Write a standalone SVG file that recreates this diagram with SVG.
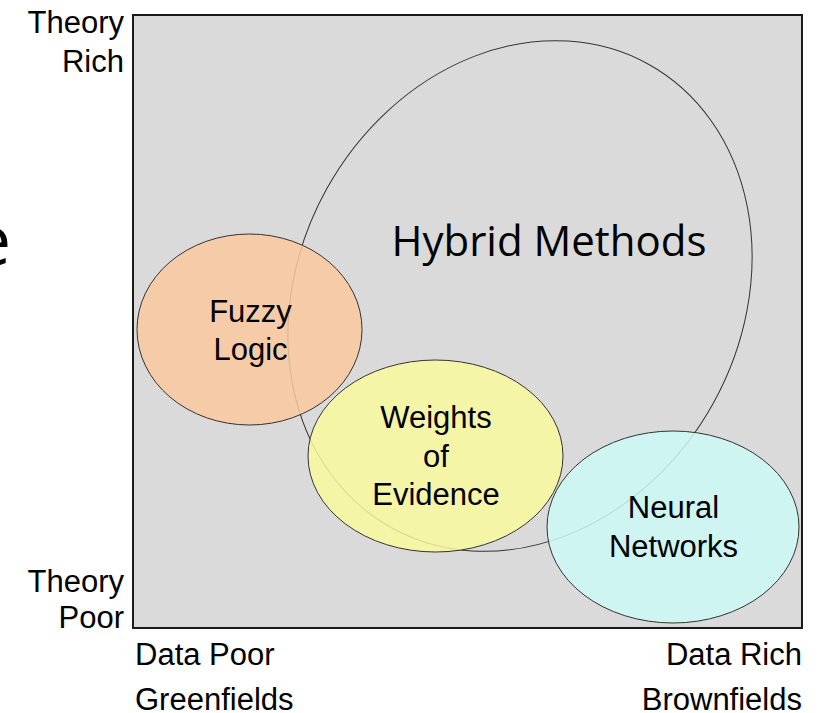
<svg xmlns="http://www.w3.org/2000/svg" width="818" height="713" viewBox="0 0 818 713">
  <style>
    .axis { font-family: "Liberation Sans", Arimo, Arial, sans-serif; font-size: 31px; fill: #000; }
    .lbl { font-family: "Liberation Sans", Arimo, Arial, sans-serif; font-size: 31px; fill: #000; text-anchor: middle; }
    .big { font-family: "Open Sans", "Noto Sans", sans-serif; font-size: 42px; fill: #000; }
    .blob { stroke: #333; stroke-width: 1; fill-opacity: 0.85; }
  </style>
  <rect width="818" height="713" fill="#ffffff"/>

  <!-- partial heading glyph at the left margin -->
  <text class="big" x="11" y="265" style="font-size:70px" text-anchor="end">e</text>

  <!-- plot field -->
  <rect id="field" x="133" y="15" width="669" height="613" fill="#dadada" stroke="#1a1a1a" stroke-width="2"/>

  <!-- axis labels -->
  <g id="axis-labels">
    <text class="axis" x="124" y="33" text-anchor="end">Theory</text>
    <text class="axis" x="124" y="72" text-anchor="end">Rich</text>
    <text class="axis" x="124" y="592" text-anchor="end">Theory</text>
    <text class="axis" x="124" y="628" text-anchor="end">Poor</text>
    <text class="axis" x="135" y="665">Data Poor</text>
    <text class="axis" x="135" y="710">Greenfields</text>
    <text class="axis" x="802" y="665" text-anchor="end">Data Rich</text>
    <text class="axis" x="802" y="710" text-anchor="end">Brownfields</text>
  </g>

  <!-- hybrid methods region -->
  <g id="hybrid">
    <ellipse cx="520" cy="296" rx="221" ry="265" transform="rotate(29 520 296)" fill="none" stroke="#333" stroke-width="1"/>
    <text class="big" x="549" y="256" text-anchor="middle">Hybrid Methods</text>
  </g>

  <g id="fuzzy">
    <ellipse class="blob" cx="249.5" cy="329.5" rx="112.5" ry="95.5" fill="#fac99f"/>
    <text class="lbl" x="250.5" y="322">Fuzzy</text>
    <text class="lbl" x="250.5" y="360">Logic</text>
  </g>

  <g id="weights">
    <ellipse class="blob" cx="435.5" cy="456" rx="127.5" ry="96" fill="#f9f99f"/>
    <text class="lbl" x="436" y="428">Weights</text>
    <text class="lbl" x="436" y="467">of</text>
    <text class="lbl" x="436" y="505">Evidence</text>
  </g>

  <g id="neural">
    <ellipse class="blob" cx="673" cy="527" rx="126" ry="96" fill="#ccf9f7"/>
    <text class="lbl" x="673.5" y="518">Neural</text>
    <text class="lbl" x="673.5" y="557">Networks</text>
  </g>

  <g id="connectors"/>
</svg>
